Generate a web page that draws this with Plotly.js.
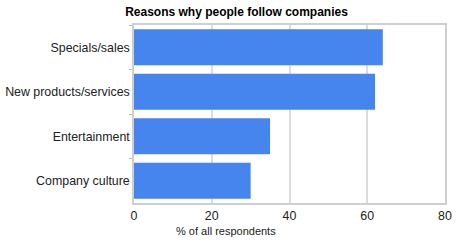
<!DOCTYPE html>
<html><head><meta charset="utf-8">
<script src="https://cdn.plot.ly/plotly-3.0.1.min.js"></script>
<style>html,body{margin:0;padding:0;background:#fff}#chart{width:473px;height:242px}</style>
</head><body><div id="chart"></div>
<script>
const categories = ["Specials/sales", "New products/services", "Entertainment", "Company culture"];
const values = [64, 62, 35, 30];
const xTicks = [0, 20, 40, 60, 80];
const chartTitle = "Reasons why people follow companies";
const xTitle = "% of all respondents";

const font = "Liberation Sans, Arial, sans-serif";
Plotly.newPlot("chart", [{
  type: "bar", orientation: "h",
  y: categories, x: values,
  marker: {color: "#4684ee"},
  hoverinfo: "x+y"
}], {
  width: 473, height: 242,
  margin: {l: 134, r: 28, t: 25, b: 39, pad: 0},
  paper_bgcolor: "#fff", plot_bgcolor: "#fff",
  bargap: 0.19,
  showlegend: false,
  title: {text: "<b>" + chartTitle + "</b>", x: 0.5, xanchor: "center", y: 0.95, yanchor: "middle", yref: "container",
          font: {family: font, size: 12, color: "#000"}},
  xaxis: {range: [0, 80], tickvals: xTicks, ticktext: xTicks.map(String),
          showgrid: true, gridcolor: "#dcdcdc", gridwidth: 1.5,
          showline: true, linecolor: "#cfcfcf", linewidth: 1.5, mirror: true,
          zeroline: false, ticks: "",
          tickfont: {family: font, size: 12.4, color: "#222"}, fixedrange: true},
  yaxis: {autorange: "reversed", showgrid: false, zeroline: false,
          showline: true, linecolor: "#cfcfcf", linewidth: 1.5, mirror: true,
          ticks: "outside", tickson: "boundaries", ticklen: 3, tickcolor: "#bbb",
          tickfont: {family: font, size: 12.4, color: "#222"}, fixedrange: true},
  annotations: [{text: xTitle, xref: "paper", yref: "paper", x: (226-134)/311, y: -(231-203)/178,
                 xanchor: "center", yanchor: "middle", showarrow: false,
                 font: {family: font, size: 11, color: "#222"}}]
}, {displayModeBar: false, staticPlot: false});
</script></body></html>
